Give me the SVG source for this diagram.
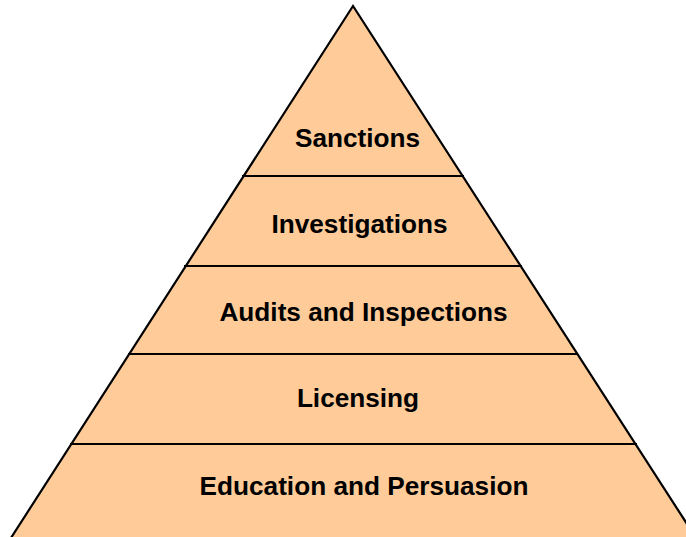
<svg xmlns="http://www.w3.org/2000/svg" width="686" height="537" viewBox="0 0 686 537">
<style>
.tier{font-family:"Liberation Sans",Arial,sans-serif;font-weight:bold;font-size:26.2px;fill:#000;text-anchor:middle}
.sep{stroke:#000;stroke-width:2}
</style>
<rect width="686" height="537" fill="#fff"/>
<g id="pyramid">
<polygon points="353,6 9,541 698,541" fill="#FFCC99" stroke="#000" stroke-width="2.2" stroke-linejoin="miter"/>
</g>
<g id="connectors">
<line class="sep" x1="242" y1="176" x2="464" y2="176"/>
<line class="sep" x1="184" y1="266" x2="522" y2="266"/>
<line class="sep" x1="128" y1="354" x2="578" y2="354"/>
<line class="sep" x1="70" y1="444" x2="637" y2="444"/>
</g>
<g id="sanctions"><text class="tier" x="357.5" y="147">Sanctions</text></g>
<g id="investigations"><text class="tier" x="359.5" y="233">Investigations</text></g>
<g id="audits"><text class="tier" x="363.5" y="321">Audits and Inspections</text></g>
<g id="licensing"><text class="tier" x="358" y="407">Licensing</text></g>
<g id="education"><text class="tier" x="364" y="495">Education and Persuasion</text></g>
</svg>
